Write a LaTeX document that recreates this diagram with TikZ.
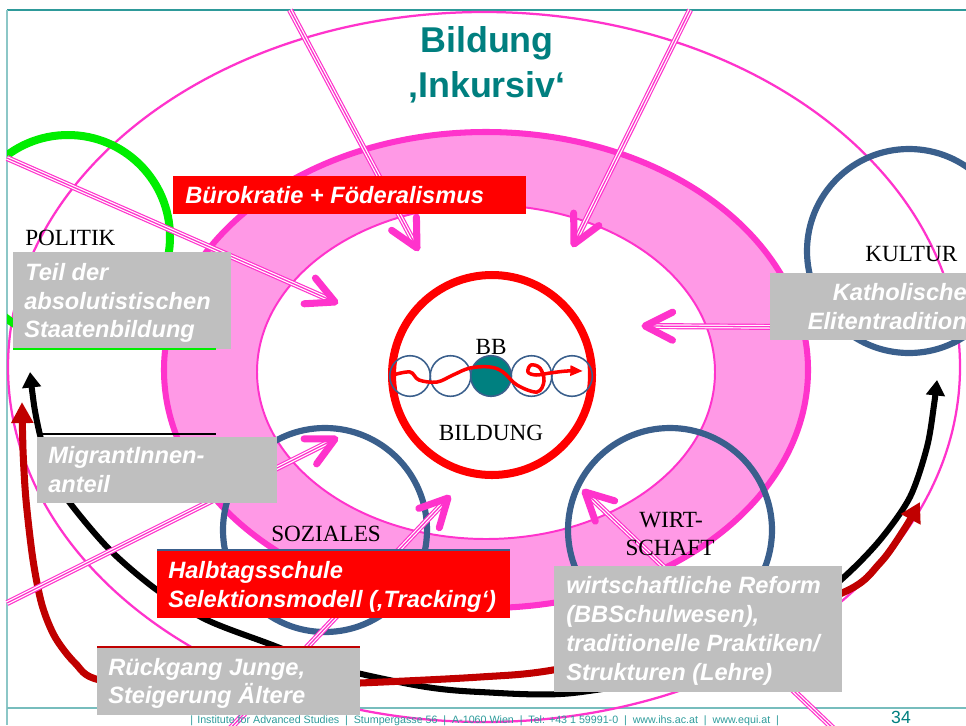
\documentclass[tikz,border=0pt]{standalone}
\usepackage{fontspec}
\setmainfont{Liberation Serif}
\setsansfont{Liberation Sans}
\usetikzlibrary{arrows.meta,calc}

\definecolor{ringfill}{HTML}{FF99E6}
\definecolor{mag}{HTML}{FF33CC}
\definecolor{titleteal}{HTML}{007F7F}
\definecolor{frameteal}{HTML}{2E9A9A}
\definecolor{footteal}{HTML}{2E9C9C}
\definecolor{ringblue}{HTML}{3A5F8C}
\definecolor{darkred}{HTML}{C00000}
\definecolor{boxgray}{HTML}{BFBFBF}
\definecolor{bbteal}{HTML}{008080}
\definecolor{politgreen}{HTML}{00EE00}

\tikzset{
  boxtext/.style={font=\sffamily\bfseries\itshape\fontsize{16.8}{20}\selectfont,
                  text=white, inner sep=0pt, anchor=base west},
  fieldname/.style={font=\rmfamily\fontsize{16.5}{19}\selectfont, inner sep=0pt},
  graybox/.style={fill=boxgray},
  redbox/.style={fill=red},
  fieldring/.style={ringblue, line width=4.4pt},
  bead/.style={ringblue, line width=1.1pt},
  trend/.style={line width=4.3pt},
}

% triple-stroked pink arrow with an open head
\newcommand\pinkarrow[2]{%
  \draw[mag, line width=4.3pt] #1 -- #2;
  \draw[white, line width=2.6pt] #1 -- #2;
  \draw[mag, line width=0.9pt] #1 -- #2;
  \draw[mag, line width=5pt, line cap=round, line join=round]
    ($#2!22pt!27:#1$) -- #2 -- ($#2!22pt!-27:#1$);}

\newcommand\footsep{\hspace{0.55em}|\hspace{0.55em}}

\begin{document}
\begin{tikzpicture}[x=0.025cm, y=-0.025cm]
\useasboundingbox (0,0) rectangle (966,725);
\clip (0,0) rectangle (966,725);
\fill[white] (0,0) rectangle (966,725);

% slide frame
\draw[frameteal, line width=1.1pt] (7,10) -- (966,10);
\draw[frameteal!55, line width=1pt] (7,10) -- (7,725);
\draw[frameteal!65, line width=1.1pt] (7,708) -- (966,708);

% outer thin ellipse
\draw[mag, line width=1.6pt] (484,367) ellipse [x radius=476, y radius=355];

% pink ring
\fill[ringfill, even odd rule] (486,370) ellipse [x radius=322, y radius=238]
                               (486,372) ellipse [x radius=229, y radius=167];
\draw[mag, line width=4.3pt] (486,370) ellipse [x radius=322, y radius=238];
\draw[mag, line width=1.4pt] (486,372) ellipse [x radius=229, y radius=167];

% politics circle, cut at the frame
\begin{scope}
  \clip (7,10) rectangle (966,725);
  \draw[politgreen, line width=5.7pt] (68,237) circle [radius=102];
\end{scope}

% field circles
\draw[fieldring] (909,251) circle [radius=102];
\draw[fieldring] (325,530) circle [radius=102];
\draw[fieldring] (670,530) circle [radius=102];

% education circle with beads
\draw[red, line width=5.7pt] (492,375) circle [radius=100];
\foreach \bx in {410,450.5,531.5,572}
  \draw[bead] (\bx,376) circle [radius=20.3];
\draw[bead, fill=bbteal] (491,376) circle [radius=20.3];
\draw[red, line width=2.5pt, -{Triangle[length=9pt,width=7pt]}]
  plot[smooth, tension=0.6] coordinates {(393,375) (410,372) (419,380) (437,382)
    (453,375) (470,368) (490,367) (503,372) (517,385) (537,392) (544,381)
    (540,368) (531,365) (528,372) (536,375) (550,373) (567,371) (583,371)};

% long curved arrows
\draw[black, trend, {Triangle[length=11pt,width=13pt]}-{Triangle[length=11pt,width=13pt]}]
  plot[smooth] coordinates {(30,372) (34,405) (40,435) (50,470) (70,503)
    (110,550) (157,590) (207,620) (267,643) (333,667) (420,686) (480,692)
    (573,693) (700,668) (790,620) (843,578) (880,540) (910,497) (927,447)
    (934,405) (937,380)};
\draw[darkred, line width=5pt, {Triangle[length=15pt,width=15pt]}-{Triangle[length=14pt,width=15pt]}]
  plot[smooth] coordinates {(22,402) (23,450) (26,500) (33,560) (42,605)
    (55,637) (75,663) (100,680) (200,689) (360,683) (480,677) (553,670)
    (700,640) (842,593) (880,563) (905,528) (920,502)};

% influence arrows
\coordinate (a1s) at (290,10);   \coordinate (a1e) at (417,248);
\coordinate (a2s) at (690,10);   \coordinate (a2e) at (574,244);
\coordinate (a3s) at (7,158);    \coordinate (a3e) at (335,302);
\coordinate (a4s) at (790,327);  \coordinate (a4e) at (645,326);
\coordinate (a5s) at (7,603);    \coordinate (a5e) at (335,439);
\coordinate (a6s) at (226,733);  \coordinate (a6e) at (448,498);
\coordinate (a7s) at (838,733);  \coordinate (a7e) at (585,492);
\pinkarrow{(a1s)}{(a1e)}
\pinkarrow{(a2s)}{(a2e)}
\pinkarrow{(a3s)}{(a3e)}
\pinkarrow{(a4s)}{(a4e)}
\pinkarrow{(a5s)}{(a5e)}
\pinkarrow{(a6s)}{(a6e)}
\pinkarrow{(a7s)}{(a7e)}

% field names
\node[fieldname, anchor=base west] (politik) at (25,245) {POLITIK};
\node[fieldname, anchor=base west] (kultur) at (865,261) {KULTUR};
\node[fieldname, anchor=base west] (soziales) at (271,541) {SOZIALES};
\node[fieldname, anchor=base] (wirt) at (671,527) {WIRT-};
\node[fieldname, anchor=base] (schaft) at (670,555) {SCHAFT};
\node[fieldname, anchor=base] (bb) at (491,354) {BB};
\node[fieldname, anchor=base] (bildung) at (491,440) {BILDUNG};

% factor boxes
\fill[graybox] (13,252) rectangle (231,349);
\draw[politgreen, line width=1pt] (13,349) -- (216,349);
\node[boxtext] (t1a) at (25,280) {Teil der};
\node[boxtext] (t1b) at (24,309) {absolutistischen};
\node[boxtext] (t1c) at (24,337) {Staatenbildung};

\fill[redbox] (173,176) rectangle (526,214);
\node[boxtext] (t2) at (185,203) {Bürokratie + Föderalismus};

\fill[graybox] (770,273) rectangle (970,340);
\node[boxtext, anchor=base east] (t3a) at (967,300) {Katholische};
\node[boxtext, anchor=base east] (t3b) at (967,329) {Elitentradition};

\fill[graybox] (37,437) rectangle (277,503);
\draw[black, line width=1.6pt] (40,434) -- (216,434);
\node[boxtext] (t4a) at (48,463) {MigrantInnen-};
\node[boxtext] (t4b) at (48,492) {anteil};

\fill[redbox] (157,550) rectangle (510,618);
\draw[ringblue, line width=1pt] (157,550) -- (510,550);
\node[boxtext] (t5a) at (168,578) {Halbtagsschule};
\node[boxtext] (t5b) at (168,607) {Selektionsmodell (‚Tracking‘)};

\fill[graybox] (97,648) rectangle (360,715);
\draw[darkred, line width=1.6pt] (97,647) -- (360,647);
\node[boxtext] (t6a) at (108,675) {Rückgang Junge,};
\node[boxtext] (t6b) at (108,703) {Steigerung Ältere};

\fill[graybox] (554,566) rectangle (842,692);
\node[boxtext] (t7a) at (566,593) {wirtschaftliche Reform};
\node[boxtext] (t7b) at (566,622) {(BBSchulwesen),};
\node[boxtext] (t7c) at (566,651) {traditionelle Praktiken/};
\node[boxtext] (t7d) at (566,680) {Strukturen (Lehre)};

% title
\node[font=\sffamily\bfseries\fontsize{25.5}{30}\selectfont, text=titleteal,
      inner sep=0pt, anchor=base] (title1) at (487,52) {Bildung};
\node[font=\sffamily\bfseries\fontsize{25.5}{30}\selectfont, text=titleteal,
      inner sep=0pt, anchor=base] (title2) at (487,97) {‚Inkursiv‘};

% footer
\node[font=\sffamily\fontsize{7.6}{9}\selectfont, text=footteal, inner sep=0pt,
      anchor=base west] (foot) at (190,723)
  {|\hspace{0.4em}Institute for Advanced Studies\footsep Stumpergasse 56\footsep
   A-1060 Wien\footsep Tel: +43 1 59991-0\footsep www.ihs.ac.at\footsep
   www.equi.at\hspace{0.55em}|};
\node[font=\sffamily\fontsize{12.5}{15}\selectfont, text=titleteal, inner sep=0pt,
      anchor=base] (page) at (901,723) {34};
\end{tikzpicture}
\end{document}
